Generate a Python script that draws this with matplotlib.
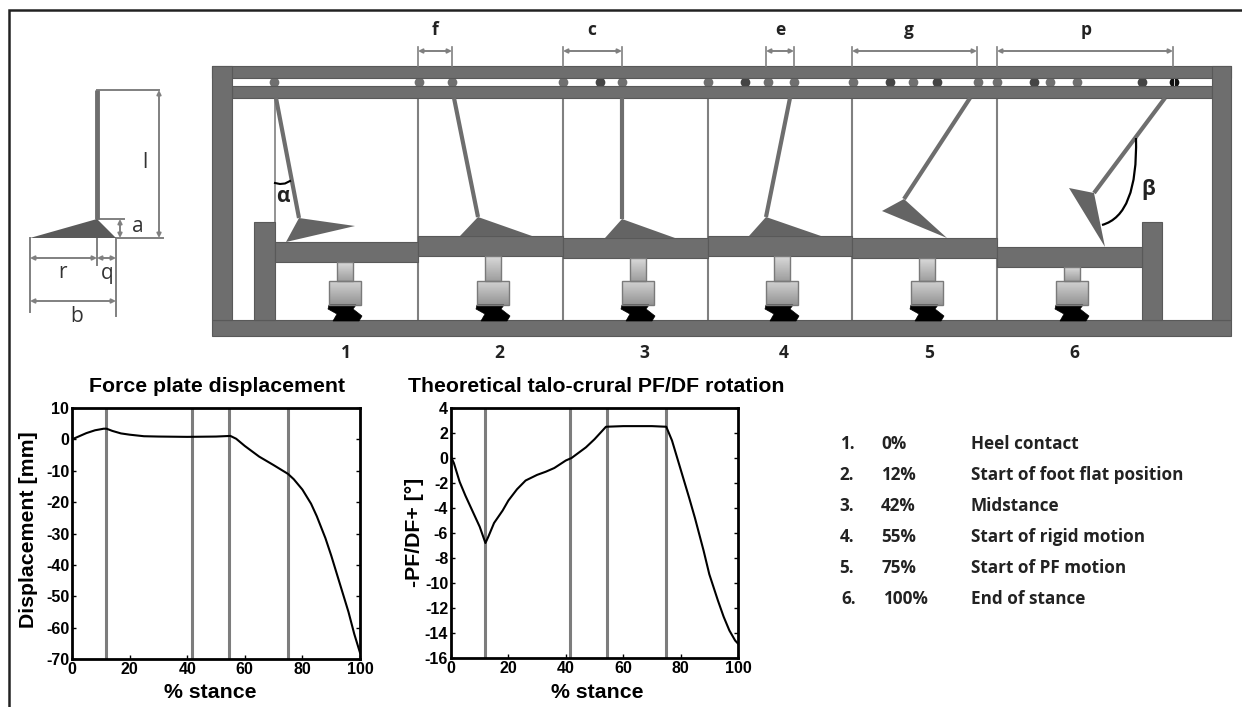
import numpy as np
import matplotlib
matplotlib.use('Agg')
import matplotlib.pyplot as plt
from matplotlib.patches import Polygon, Rectangle, PathPatch
from matplotlib.path import Path

plt.rcParams['axes.unicode_minus'] = False

W, H = 1242, 707

# force plate displacement curve
disp_x = [0, 2, 5, 8, 11, 12, 14, 17, 20, 25, 30, 40, 50, 55, 57, 60, 65, 70, 75, 77, 80, 83, 85, 88, 90, 93, 96, 98, 100]
disp_y = [0, 0.8, 2, 2.9, 3.4, 3.4, 2.7, 1.9, 1.5, 1, 0.9, 0.8, 0.9, 1.1, 0.2, -2.1, -5.5, -8.2, -11, -12.7, -16, -20.5,
          -24.5, -31.5, -37, -46, -55, -62, -68]
# talo-crural rotation curve
rot_x = [0, 1, 3, 5, 8, 10, 12, 13, 15, 18, 20, 23, 26, 30, 33, 36, 40, 42, 47, 50, 54, 60, 65, 70, 75, 77, 80, 83, 85,
         88, 90, 93, 95, 97, 99, 100]
rot_y = [0.1, -0.4, -1.9, -3, -4.5, -5.5, -6.8, -6.3, -5.2, -4.2, -3.4, -2.5, -1.8, -1.35, -1.1, -0.8, -0.2, 0, 0.85,
         1.5, 2.5, 2.55, 2.55, 2.55, 2.5, 1.4, -0.9, -3.2, -4.8, -7.4, -9.3, -11.4, -12.7, -13.8, -14.6, -14.85]
phase_lines = [11.8, 41.5, 54.5, 75]

table_no = ['1.', '2.', '3.', '4.', '5.', '6.']
table_pct = ['0%', '12%', '42%', '55%', '75%', '100%']
table_txt = ['Heel contact', 'Start of foot flat position', 'Midstance', 'Start of rigid motion', 'Start of PF motion',
             'End of stance']
table_y = [444, 475, 506, 537, 568, 599]
table_no_x = [847, 847, 847, 847, 847, 849]
table_pct_x = [881, 881, 881, 881, 881, 883]

# schematic, in image pixels
divider_x = [418, 563, 708, 852, 997]
pin_x = [274, 419, 452, 563, 622, 708, 768, 794, 853, 913, 978, 997, 1050, 1077]
pin_dark_x = [600, 745, 890, 937, 1034, 1142]
plates = [(275, 418, 242), (418, 563, 236), (563, 708, 238), (708, 852, 236), (852, 997, 238), (997, 1142, 247)]
neck_x = [337, 485, 630, 774, 919, 1064]
block_x = [329, 477, 622, 766, 911, 1056]
legs = [[(276, 98), (299, 218)], [(454, 98), (478, 217)], [(622, 98), (622, 219)],
        [(790, 98), (766, 217)], [(970, 98), (904, 199)], [(1165, 98), (1094, 193)]]
feet = [[(299, 218), (355, 226), (286, 242)], [(478, 217), (460, 236), (532, 236)], [(622, 219), (605, 238), (675, 238)],
        [(766, 217), (749, 236), (821, 236)], [(904, 199), (882, 211), (947, 238)], [(1094, 193), (1069, 188), (1105, 247)]]
spans = [('f', 418, 452, 435), ('c', 563, 622, 592), ('e', 766, 794, 780), ('g', 852, 977, 909), ('p', 997, 1173, 1086)]
num_x = [346, 499, 644, 784, 929, 1074]

GREY = '#6e6e6e'
EDGE = '#595959'
LINE = '#808080'
TXT = ['Open Sans', 'DejaVu Sans']
ARIAL = 'Liberation Sans'


def rect(ax, x0, y0, x1, y1, color=GREY, ec=EDGE, z=2):
    ax.add_patch(Rectangle((x0, y0), x1 - x0, y1 - y0, fc=color, ec=ec, lw=0.8, zorder=z))


def dim(ax, x0, y0, x1, y1, lw=1.4, color=LINE):
    ax.annotate('', xy=(x1, y1), xytext=(x0, y0), zorder=4,
                arrowprops=dict(arrowstyle='<|-|>', color=color, lw=lw, mutation_scale=6, shrinkA=0, shrinkB=0))


def grad(ax, x0, y0, x1, y1, top, bottom):
    g = np.linspace(top, bottom, 32).reshape(-1, 1)
    ax.imshow(g, extent=(x0, x1, y1, y0), cmap='gray', vmin=0, vmax=1, aspect='auto', zorder=3)
    ax.add_patch(Rectangle((x0, y0), x1 - x0, y1 - y0, fc='none', ec='#7a7a7a', lw=1, zorder=4))


fig = plt.figure(figsize=(W / 100, H / 100), dpi=100)
bg = fig.add_axes([0, 0, 1, 1])
bg.set_xlim(0, W)
bg.set_ylim(H, 0)
bg.axis('off')

# image border
bg.plot([9, 9, W], [H, 10, 10], color='#222222', lw=1.8, solid_joinstyle='miter')

# frame rails
rect(bg, 212, 320, 1231, 336)
rect(bg, 212, 66, 1231, 78)
rect(bg, 232, 86, 1212, 98)
rect(bg, 212, 66, 232, 320)
rect(bg, 1212, 66, 1231, 320)
rect(bg, 254, 222, 275, 320)
rect(bg, 1142, 222, 1162, 320)

for x in divider_x:
    bg.plot([x, x], [98, 320], color=LINE, lw=1.5, zorder=1)
bg.plot([275, 275], [98, 222], color=LINE, lw=1.2, zorder=1)

for x in pin_x:
    bg.plot(x, 82, 'o', ms=7, mew=0, color='#707070', zorder=1.5)
for x in pin_dark_x:
    bg.plot(x, 82, 'o', ms=7, mew=0, color='#454545', zorder=1.5)
bg.plot(1174, 82, 'o', ms=7, mew=0, color='#111111', zorder=1.5)
bg.plot([1174, 1174], [78, 86], color='#cccccc', lw=0.7, zorder=1.6)

# stations
for i in range(6):
    x0, x1, y0 = plates[i]
    rect(bg, x0, y0, x1, y0 + 20, z=3)
    grad(bg, neck_x[i], y0 + 20, neck_x[i] + 16, 281, 0.85, 0.62)
    grad(bg, block_x[i], 281, block_x[i] + 32, 305, 0.82, 0.58)
    xs = block_x[i]
    bg.add_patch(Polygon([(xs, 305), (xs + 27, 305), (xs + 24, 309), (xs + 33, 316), (xs + 30, 321), (xs + 4, 321),
                          (xs + 8, 314), (xs - 1, 309)], fc='black', ec='black', lw=0.5, zorder=3))
    (lx0, ly0), (lx1, ly1) = legs[i]
    bg.plot([lx0, lx1], [ly0, ly1], color=GREY, lw=3, zorder=3, solid_capstyle='butt')
    bg.add_patch(Polygon(feet[i], fc='#646464', ec='none', zorder=3))
    bg.text(num_x[i], 353, str(i + 1), ha='center', va='center', fontsize=12.5, fontweight='bold', family=TXT,
            color='#222222')

# alpha and beta
bg.plot([275, 280, 285, 290], [183, 184, 183.5, 181], color='black', lw=1.5, zorder=5)
bg.text(283, 196, 'α', ha='center', va='center', fontsize=15, fontweight='bold', family=TXT, color='#222222')
bg.add_patch(PathPatch(Path([(1136, 138), (1138, 215), (1102, 225)], [Path.MOVETO, Path.CURVE3, Path.CURVE3]),
                       fc='none', ec='black', lw=1.6, zorder=5))
bg.text(1148, 190, 'β', ha='center', va='center', fontsize=15, fontweight='bold', family=TXT, color='#222222')

# top dimensions
for name, x0, x1, xt in spans:
    bg.plot([x0, x0], [47, 66], color=LINE, lw=1.2)
    bg.plot([x1, x1], [47, 66], color=LINE, lw=1.2)
    dim(bg, x0, 51, x1, 51)
    bg.text(xt, 30, name, ha='center', va='center', fontsize=12.5, fontweight='bold', family=TXT, color='#222222')

# foot dimension sketch
for xs, ys in [([97, 159], [90, 90]), ([97, 124], [219, 219]), ([116, 163], [238, 238]), ([30, 30], [238, 312]),
               ([116, 116], [238, 316]), ([97, 97], [219, 265])]:
    bg.plot(xs, ys, color=LINE, lw=1.4, zorder=2)
bg.plot([97, 97], [90, 219], color=GREY, lw=3.5, solid_capstyle='butt', zorder=3)
bg.add_patch(Polygon([(30, 238), (97, 219), (116, 238)], fc='#5a5a5a', ec='none', zorder=2))
dim(bg, 159, 90, 159, 238)
dim(bg, 120, 219, 120, 238)
dim(bg, 30, 258, 97, 258)
dim(bg, 97, 258, 116, 258)
dim(bg, 30, 301, 116, 301)
for s, x, y in [('l', 145, 162), ('a', 138, 227), ('r', 62, 273), ('q', 107, 274), ('b', 77, 316)]:
    bg.text(x, y, s, ha='center', va='center', fontsize=15, family=TXT, color='#333333')

# legend table on the right
for n, nx, p, px, t, y in zip(table_no, table_no_x, table_pct, table_pct_x, table_txt, table_y):
    bg.text(nx, y, n, ha='center', va='center', fontsize=12.3, fontweight='bold', family=TXT, color='#222222')
    bg.text(px, y, p, ha='left', va='center', fontsize=12.3, fontweight='bold', family=TXT, color='#222222')
    bg.text(971, y, t, ha='left', va='center', fontsize=12.3, fontweight='bold', family=TXT, color='#222222')


def curve_axes(box, xs, ys, ylim, yticks, ylabel, ylabel_x, ylabel_y, xlabel_x, title, title_x):
    x0, y0, x1, y1 = box
    ax = fig.add_axes([x0 / W, 1 - y1 / H, (x1 - x0) / W, (y1 - y0) / H])
    for v in phase_lines:
        ax.axvline(v, color='#7d7d7d', lw=2.2)
    ax.plot(xs, ys, color='black', lw=1.5)
    ax.set_xlim(0, 100)
    ax.set_ylim(*ylim)
    ax.set_xticks(range(0, 101, 20))
    ax.set_yticks(yticks)
    ax.tick_params(direction='in', length=3, width=1, pad=2, right=True, labelsize=11.5)
    for lab in ax.get_xticklabels() + ax.get_yticklabels():
        lab.set_fontweight('bold')
        lab.set_family(ARIAL)
    for s in ax.spines.values():
        s.set_linewidth(2)
    ax.set_ylabel(ylabel, fontsize=15.3, fontweight='bold', family=ARIAL)
    ax.yaxis.set_label_coords((ylabel_x - x0) / (x1 - x0), ylabel_y)
    bg.text(xlabel_x, 692, '% stance', ha='center', va='center', fontsize=15.3, fontweight='bold', family=ARIAL)
    bg.text(title_x, 387, title, ha='center', va='center', fontsize=15.3, fontweight='bold', family=ARIAL)
    return ax


curve_axes((72, 408, 360, 659), disp_x, disp_y, (-70, 10), range(-70, 11, 10), 'Displacement [mm]', 38, 0.514, 210,
           'Force plate displacement', 217)
curve_axes((451, 408, 738, 658), rot_x, rot_y, (-16, 4), range(-16, 5, 2), '-PF/DF+ [°]', 424, 0.504, 597,
           'Theoretical talo-crural PF/DF rotation', 596)

fig.savefig('out.png', dpi=100)
